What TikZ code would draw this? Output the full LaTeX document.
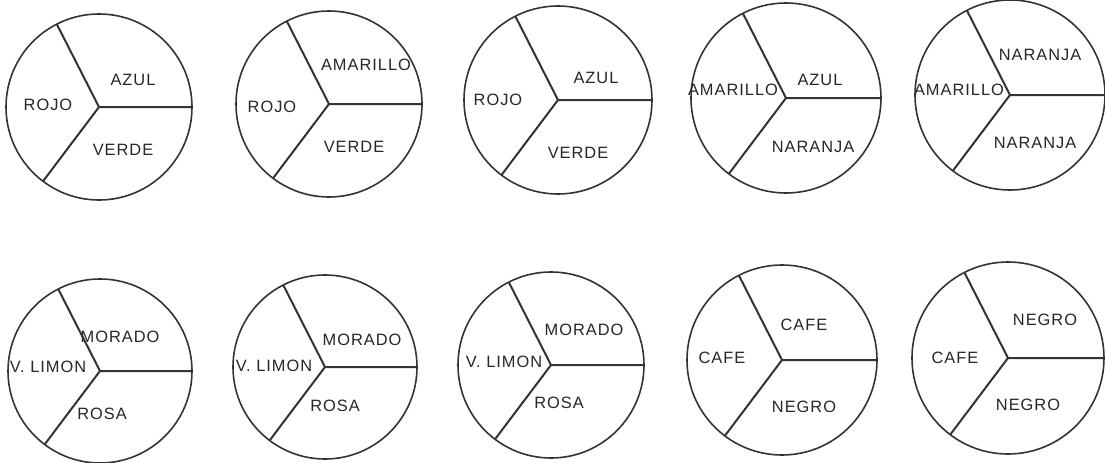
\documentclass[tikz,border=0pt]{standalone}
\usepackage{fontspec}
\setmainfont{Liberation Sans}[LetterSpace=6]
\begin{document}
\begin{tikzpicture}[x=0.5pt,y=0.5pt,line width=0.8pt,draw=black!80,
  lab/.style={font=\fontsize{8.2}{10}\selectfont,text=black!85,inner sep=0pt}]
\useasboundingbox (0,0) rectangle (1105,462);
\foreach \cx/\cy/\r/\ta/\tx/\ty/\la/\lx/\ly/\ba/\bx/\by [count=\i] in {
  99/355/93/AZUL/34/27/ROJO/-51/2/VERDE/24/-43,
  329/358/93/AMARILLO/37/39/ROJO/-57/-3/VERDE/25/-43,
  558/362/94/AZUL/38/22/ROJO/-60/0/VERDE/20/-53,
  786/364/95/AZUL/34/18/AMARILLO/-53/8/NARANJA/27/-49,
  1010/367/95/NARANJA/30/40/AMARILLO/-51/5/NARANJA/25/-48,
  100/91/92/MORADO/20/34/V. LIMON/-52/4/ROSA/2/-43,
  325/95/92/MORADO/37/27/V. LIMON/-51/1/ROSA/10/-39,
  551/97/93/MORADO/33/35/V. LIMON/-47/3/ROSA/8/-38,
  782/102/95/CAFE/22/35/CAFE/-60/2/NEGRO/22/-47,
  1008/104/96/NEGRO/37/38/CAFE/-53/0/NEGRO/20/-47}
{
  \coordinate (c\i) at (\cx,\cy);
  \draw (c\i) circle[radius=\r];
  \draw[line width=1pt] (c\i)--++(0:\r) (c\i)--++(117:\r) (c\i)--++(233:\r);
  \node[lab] (top\i) at ([shift={(\tx,\ty)}]c\i) {\ta};
  \node[lab] (left\i) at ([shift={(\lx,\ly)}]c\i) {\la};
  \node[lab] (low\i) at ([shift={(\bx,\by)}]c\i) {\ba};
}
\end{tikzpicture}
\end{document}
